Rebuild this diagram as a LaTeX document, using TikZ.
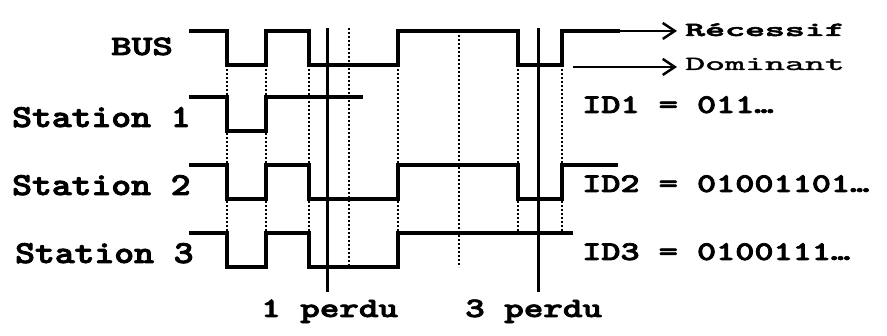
\documentclass[tikz,border=0pt]{standalone}
\usepackage{fontspec}
\usepackage{graphicx}
\usetikzlibrary{arrows.meta}
\newfontfamily\cmono{lmmono10-regular.otf}[BoldFont=lmmonolt10-bold.otf,BoldFeatures={FakeBold=2.5}]
\newfontfamily\cmonomed{lmmono10-regular.otf}[FakeBold=1.2]
\newcommand\txt[3]{\fontsize{#1}{#1}\selectfont\scalebox{#2}[1]{#3}}
\begin{document}
\begin{tikzpicture}[x=1pt,y=-1pt,
  trace/.style={line width=4pt,line join=miter,line cap=butt},
  marker/.style={line width=3pt},
  grid/.style={line width=2pt,dash pattern=on 2pt off 2pt},
  legendarrow/.style={line width=2pt,-{Straight Barb[length=12pt,width=16pt,line width=2.5pt]}},
  lbl/.style={inner sep=0pt,anchor=base west,font=\cmono\bfseries},
  lblr/.style={inner sep=0pt,anchor=base west,font=\cmonomed}]
\useasboundingbox (0,0) rectangle (887,336);
\fill[white] (0,0) rectangle (887,336);
% dotted bit boundaries
\foreach \x in {227,266,309,398,518,562}{\draw[grid] (\x,65) -- (\x,233);}
\draw[grid] (349,28) -- (349,267);
\draw[grid] (459,31) -- (459,267);
% solid markers
\coordinate (m1top) at (327,28); \coordinate (m1bot) at (327,292);
\coordinate (m3top) at (538,28); \coordinate (m3bot) at (538,292);
\draw[marker] (m1top) -- (m1bot);
\draw[marker] (m3top) -- (m3bot);
% traces
\draw[trace] (189,31) -- (227,31) -- (227,65) -- (266,65) -- (266,31) -- (309,31) -- (309,65) -- (398,65) -- (398,31) -- (518,31) -- (518,65) -- (562,65) -- (562,31) -- (620,31) coordinate (busend);
\draw[trace] (189,97) -- (227,97) -- (227,131) -- (266,131) -- (266,97) -- (363,97);
\draw[trace] (189,165) -- (227,165) -- (227,199) -- (266,199) -- (266,165) -- (309,165) -- (309,199) -- (398,199) -- (398,165) -- (518,165) -- (518,199) -- (562,199) -- (562,165) -- (618,165);
\draw[trace] (189,233) -- (227,233) -- (227,267) -- (266,267) -- (266,233) -- (309,233) -- (309,267) -- (398,267) -- (398,233) -- (573,233);
% left labels
\node[lbl] (bus) at (111,55) {\txt{28}{1.4}{BUS}};
\node[lbl] (st1) at (12,127) {\txt{32}{1.18}{Station 1}};
\node[lbl] (st2) at (12,195) {\txt{32}{1.18}{Station 2}};
\node[lbl] (st3) at (15,263) {\txt{32}{1.18}{Station 3}};
% right labels
\node[lbl] (id1) at (582,113) {\txt{27}{1.35}{ID1 = 011…}};
\node[lbl] (id2) at (582,192) {\txt{27}{1.35}{ID2 = 01001101…}};
\node[lbl] (id3) at (582,260) {\txt{27}{1.35}{ID3 = 0100111…}};
% legend
\node[lbl] (rec) at (685,36) {\txt{20}{1.9}{Récessif}};
\node[lblr] (dom) at (685,70) {\txt{20}{1.9}{Dominant}};
\coordinate (recend) at (677,31);
\coordinate (domstart) at (573,67);
\coordinate (domend) at (677,67);
\draw[legendarrow] (busend) -- (recend);
\draw[legendarrow] (domstart) -- (domend);
% bottom labels
\node[lbl] (p1) at (261,317) {\txt{28}{1.33}{1 perdu}};
\node[lbl] (p3) at (465,317) {\txt{28}{1.33}{3 perdu}};
\end{tikzpicture}
\end{document}
